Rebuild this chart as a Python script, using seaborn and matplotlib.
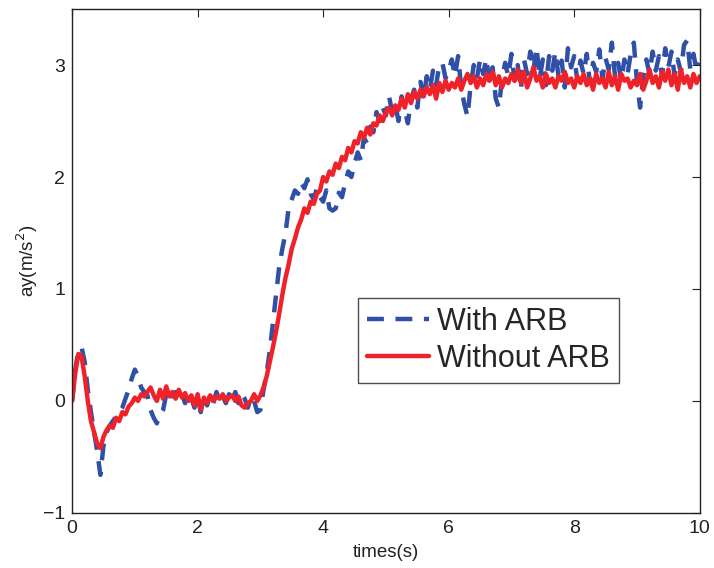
import numpy as np
import pandas as pd
import matplotlib
matplotlib.use("Agg")
import matplotlib.pyplot as plt
import seaborn as sns

time_s = np.round(np.arange(0, 10.001, 0.05), 2)

ay_without_arb = [
    0.00, 0.25, 0.42, 0.40, 0.22, 0.00, -0.18, -0.28, -0.38, -0.42,
    -0.32, -0.26, -0.22, -0.24, -0.15, -0.18, -0.10, -0.12, -0.05, -0.02,
    0.03, 0.00, 0.06, 0.04, 0.08, 0.12, 0.05, 0.00, 0.10, 0.02,
    0.13, 0.04, 0.08, 0.02, 0.10, 0.03, 0.07, 0.00, 0.05, -0.04,
    0.06, -0.08, 0.03, -0.02, 0.05, 0.00, 0.04, 0.02, 0.06, 0.00,
    0.03, 0.05, 0.00, 0.04, -0.04, -0.06, -0.02, 0.00, 0.06, 0.00,
    0.05, 0.12, 0.22, 0.35, 0.48, 0.62, 0.78, 0.95, 1.10, 1.22,
    1.36, 1.45, 1.55, 1.62, 1.72, 1.68, 1.78, 1.76, 1.85, 1.88,
    2.00, 1.96, 2.05, 2.02, 2.12, 2.08, 2.18, 2.15, 2.26, 2.22,
    2.32, 2.30, 2.40, 2.35, 2.44, 2.38, 2.48, 2.46, 2.55, 2.50,
    2.58, 2.62, 2.55, 2.64, 2.60, 2.70, 2.62, 2.74, 2.66, 2.76,
    2.70, 2.78, 2.72, 2.80, 2.74, 2.82, 2.70, 2.84, 2.76, 2.86,
    2.78, 2.84, 2.80, 2.88, 2.78, 2.86, 2.92, 2.84, 2.90, 2.80,
    2.88, 2.82, 2.92, 2.86, 2.94, 2.82, 2.90, 2.80, 2.88, 2.84,
    2.92, 2.86, 2.96, 2.84, 2.94, 2.80, 2.88, 2.98, 2.86, 2.90,
    2.80, 2.92, 2.84, 2.88, 2.80, 2.90, 2.86, 2.94, 2.84, 2.88,
    2.80, 2.90, 2.84, 2.92, 2.82, 2.88, 2.78, 2.92, 2.84, 2.88,
    2.80, 2.94, 2.82, 2.90, 2.78, 2.92, 2.86, 2.88, 2.80, 2.86,
    2.82, 2.92, 2.78, 2.86, 2.96, 2.84, 2.90, 2.80, 2.94, 2.86,
    2.96, 2.82, 2.92, 2.78, 2.96, 2.84, 2.90, 2.80, 2.92, 2.84,
    2.90,
]

ay_with_arb = [
    0.00, 0.28, 0.45, 0.48, 0.35, 0.10, -0.10, -0.28, -0.45, -0.66,
    -0.40, -0.28, -0.22, -0.18, -0.14, -0.10, -0.06, 0.02, 0.10, 0.20,
    0.28, 0.22, 0.12, 0.08, 0.05, -0.08, -0.15, -0.20, -0.12, -0.08,
    0.06, 0.12, 0.04, 0.08, 0.00, 0.06, -0.02, 0.08, 0.02, -0.06,
    0.04, -0.10, 0.05, -0.04, 0.06, -0.02, 0.08, 0.00, 0.04, -0.02,
    0.06, 0.00, 0.08, -0.02, 0.06, 0.02, -0.06, 0.04, 0.00, -0.10,
    -0.08, 0.10, 0.25, 0.45, 0.70, 0.95, 1.20, 1.36, 1.50, 1.72,
    1.80, 1.88, 1.85, 1.95, 1.90, 1.98, 1.85, 1.80, 1.90, 1.82,
    1.78, 1.88, 1.72, 1.70, 1.72, 1.86, 1.82, 1.95, 2.05, 2.00,
    2.12, 2.22, 2.15, 2.35, 2.30, 2.45, 2.40, 2.58, 2.50, 2.62,
    2.55, 2.72, 2.58, 2.65, 2.50, 2.72, 2.60, 2.48, 2.70, 2.78,
    2.62, 2.85, 2.70, 2.90, 2.78, 2.95, 2.82, 3.00, 3.02, 2.88,
    2.95, 3.05, 2.90, 3.08, 2.80, 2.65, 2.54, 2.82, 3.00, 2.88,
    3.05, 2.92, 3.06, 2.84, 2.98, 2.70, 2.62, 2.88, 3.02, 2.90,
    3.10, 2.86, 3.00, 2.78, 3.05, 2.92, 3.12, 2.95, 3.16, 2.88,
    3.05, 2.82, 3.08, 2.95, 3.12, 2.90, 3.04, 2.80, 3.15, 2.98,
    3.08, 2.86, 3.04, 2.92, 3.10, 2.84, 3.02, 2.94, 3.14, 2.88,
    3.06, 2.96, 3.20, 2.90, 3.02, 2.86, 3.05, 2.92, 3.10, 3.20,
    2.85, 2.62, 2.90, 3.05, 2.92, 3.12, 2.95, 3.08, 2.90, 3.15,
    2.98, 3.12, 2.90, 3.05, 2.94, 3.18, 3.22, 2.96, 3.10, 2.95,
    3.02,
]

series_names = ["With ARB", "Without ARB"]
x_ticks = [0, 2, 4, 6, 8, 10]
y_ticks = [-1, 0, 1, 2, 3]

df = pd.DataFrame({
    "t": np.concatenate([time_s, time_s]),
    "ay": np.concatenate([ay_with_arb, ay_without_arb]),
    "case": [series_names[0]] * len(time_s) + [series_names[1]] * len(time_s),
})

sns.set_style("white")
plt.rcParams["font.family"] = ["Liberation Sans", "DejaVu Sans"]

fig = plt.figure(figsize=(7.14, 5.68), dpi=100)
ax = fig.add_axes([0.101, 0.097, 0.879, 0.887])

blue = "#3050a8"
red = "#ee2228"
sns.lineplot(data=df[df["case"] == series_names[0]], x="t", y="ay", ax=ax,
             color=blue, linewidth=3.2, label=series_names[0],
             estimator=None, sort=False)
sns.lineplot(data=df[df["case"] == series_names[1]], x="t", y="ay", ax=ax,
             color=red, linewidth=3.2, label=series_names[1],
             estimator=None, sort=False)
ax.lines[0].set_dashes([3.8, 2.6])

ax.set_xlim(0, 10)
ax.set_ylim(-1, 3.5)
ax.set_xticks(x_ticks)
ax.set_yticks(y_ticks)
ax.set_yticklabels(["\u22121", "0", "1", "2", "3"])
ax.tick_params(direction="in", top=True, right=True, length=6, width=0.8,
               labelsize=14, colors="#222222", pad=5)
for s in ax.spines.values():
    s.set_visible(True)
    s.set_color("#222222")
    s.set_linewidth(1.0)
ax.set_xlabel("times(s)", fontsize=13.5, labelpad=5, color="#222222")
ax.set_ylabel("ay(m/s$^2$)", fontsize=13.5, labelpad=2, color="#222222")

leg = ax.legend(loc="upper left", bbox_to_anchor=(0.455, 0.427), fontsize=22,
                frameon=True, fancybox=False, edgecolor="#222222",
                handlelength=2.05, handletextpad=0.25, borderpad=0.3,
                labelspacing=0.22, borderaxespad=0)
leg.get_frame().set_linewidth(1.0)
for ln in leg.get_lines():
    ln.set_linewidth(3.2)

fig.savefig("out.png", dpi=100)
